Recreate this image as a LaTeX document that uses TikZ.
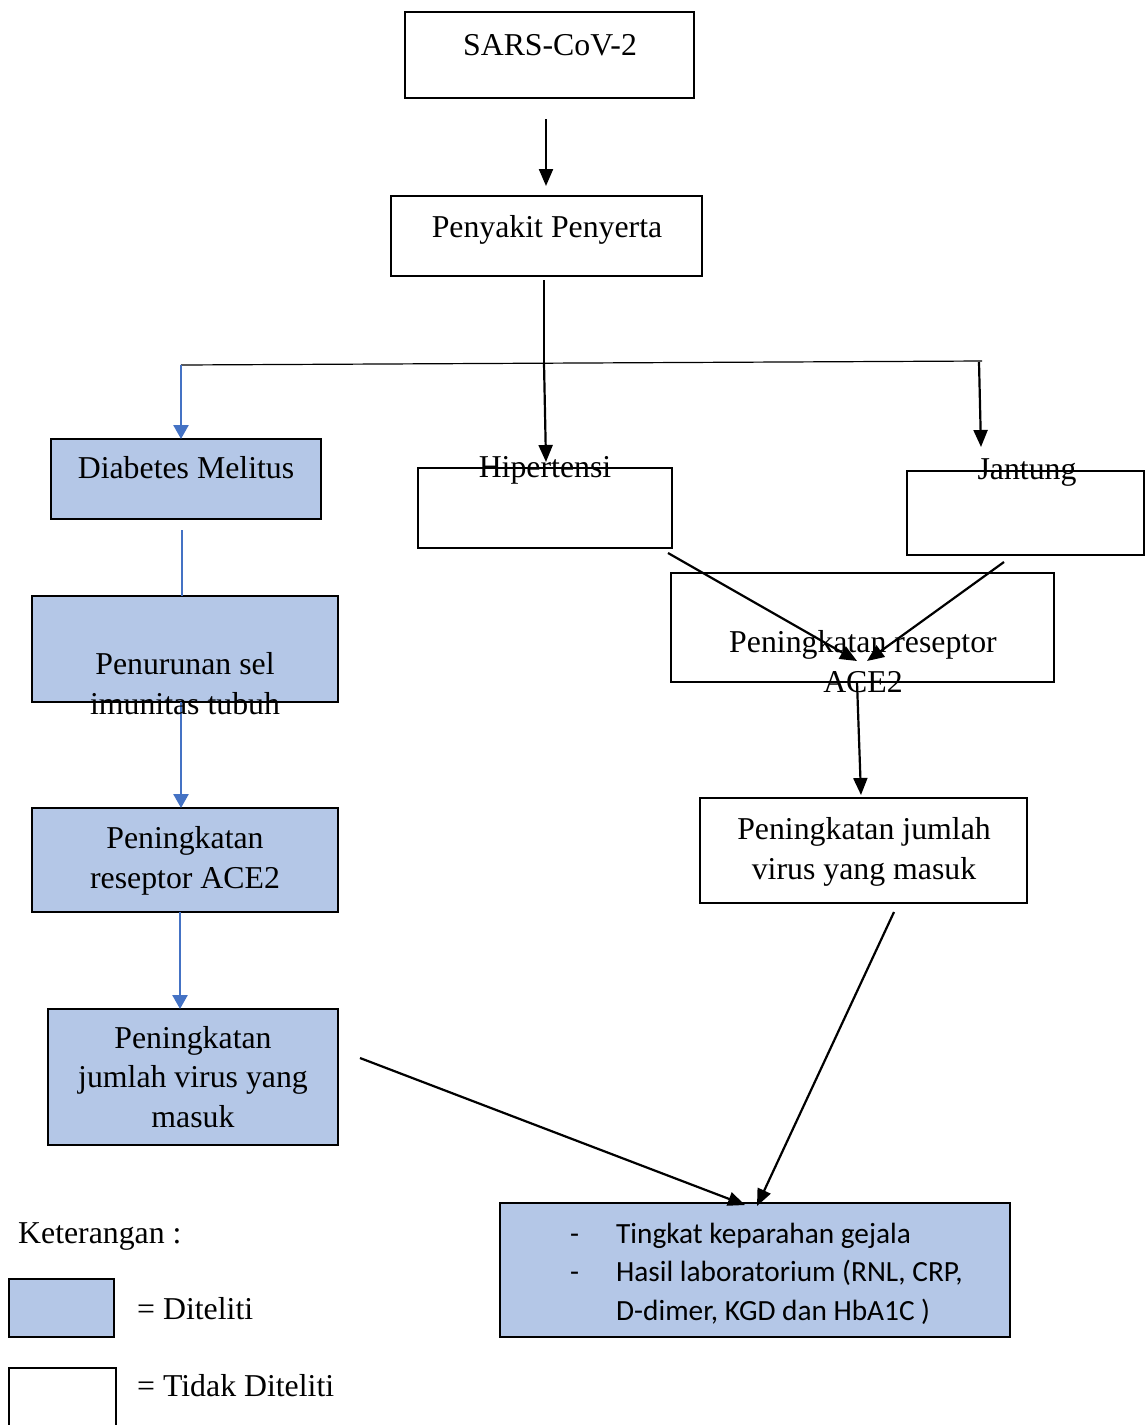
\documentclass[tikz,border=0pt]{standalone}
\usepackage{fontspec}
\setmainfont{Liberation Serif}
\newfontfamily\calib{Carlito}
\usetikzlibrary{arrows.meta}
\definecolor{boxfill}{HTML}{B4C7E7}
\definecolor{blueline}{HTML}{4472C4}
\begin{document}
\begin{tikzpicture}[x=1pt,y=-1pt,
  box/.style={draw=black, line width=2.3pt, anchor=north west, inner sep=0pt, outer sep=0pt},
  res/.style={box, fill=boxfill},
  txt/.style={anchor=base, inner sep=0pt, align=center, font=\fontsize{31.8}{39.5}\selectfont},
  arr/.style={line width=2.2pt, -{Triangle[length=17pt,width=14pt]}},
  barr/.style={draw=blueline, line width=2.6pt, -{Triangle[length=14pt,width=15pt]}},
  bluel/.style={draw=blueline, line width=2.6pt},
  thinl/.style={line width=1.2pt}
]
\useasboundingbox (0,0) rectangle (1145,1425);

% boxes
\node[box, minimum width=289pt, minimum height=86pt] (sars) at (405,12) {};
\node[box, minimum width=311pt, minimum height=80pt] (peny) at (391,196) {};
\node[res, minimum width=270pt, minimum height=80pt] (dm) at (51,439) {};
\node[box, minimum width=254pt, minimum height=80pt] (hip) at (418,468) {};
\node[box, minimum width=237pt, minimum height=84pt] (jan) at (907,471) {};
\node[box, minimum width=383pt, minimum height=109pt] (aceR) at (671,573) {};
\node[box, minimum width=327pt, minimum height=105pt] (jumR) at (700,798) {};
\node[res, minimum width=306pt, minimum height=106pt] (pen) at (32,596) {};
\node[res, minimum width=306pt, minimum height=104pt] (aceL) at (32,808) {};
\node[res, minimum width=290pt, minimum height=136pt] (jumL) at (48,1009) {};
\node[res, minimum width=510pt, minimum height=134pt] (out) at (500,1203) {};
\node[res, minimum width=105pt, minimum height=58pt] (leg1) at (9,1279) {};
\node[box, minimum width=107pt, minimum height=70pt] (leg2) at (9,1368) {};

% branch coordinates
\coordinate (hl) at (181,365);
\coordinate (hm) at (544,363);
\coordinate (hj) at (979,362);
\coordinate (hr) at (982,361);

% connectors
\draw[arr] ([xshift=-3.5pt,yshift=-21pt]sars.south) -- ([xshift=-0.5pt,yshift=10pt]peny.north);
\draw[thinl] ([xshift=-2.5pt,yshift=-4pt]peny.south) -- (hm);
\draw[thinl] (hl) -- (hr);
\draw[arr] (hm) -- ([xshift=1pt,yshift=6pt]hip.north);
\draw[arr] (hj) -- ([xshift=-44.5pt,yshift=24pt]jan.north);
\draw[barr] (hl) -- ([xshift=-5pt]dm.north);
\draw[bluel] ([xshift=-4pt,yshift=-11pt]dm.south) -- ([xshift=-3pt]pen.north);
\draw[barr] ([xshift=-4pt]pen.south) -- ([xshift=-4pt]aceL.north);
\draw[barr] ([xshift=-5pt]aceL.south) -- ([xshift=-13pt]jumL.north);
\draw[arr] ([xshift=-4pt,yshift=-5pt]hip.south east) -- ([xshift=-5.5pt,yshift=-33.5pt]aceR.center);
\draw[arr] ([xshift=-21.5pt,yshift=-7pt]jan.south) -- ([xshift=4.5pt,yshift=-33.5pt]aceR.center);
\draw[arr] ([xshift=-5.5pt]aceR.south) -- ([xshift=-2.5pt,yshift=3pt]jumR.north);
\draw[arr] ([xshift=30.5pt,yshift=-9pt]jumR.south) -- ([xshift=2pt,yshift=-3pt]out.north);
\draw[arr] ([xshift=22pt,yshift=19pt]jumL.east) -- ([xshift=-10pt,yshift=-2pt]out.north);

% texts (multi-line nodes anchored at the baseline of their last line)
\node[txt] (tsars) at (550,55) {SARS-CoV-2};
\node[txt] (tpeny) at (547,237) {Penyakit Penyerta};
\node[txt] (tdm) at (186,478) {Diabetes Melitus};
\node[txt] (thip) at (545,477) {Hipertensi};
\node[txt] (tjan) at (1027,479) {Jantung};
\node[txt] (taceR) at (863,692) {Peningkatan reseptor\\ACE2};
\node[txt] (tjumR) at (864,879) {Peningkatan jumlah\\virus yang masuk};
\node[txt] (tpen) at (185,714) {Penurunan sel\\imunitas tubuh};
\node[txt] (taceL) at (185,888) {Peningkatan\\reseptor ACE2};
\node[txt] (tjumL) at (193,1127) {Peningkatan\\jumlah virus yang\\masuk};
\node[anchor=base west, inner sep=0pt, font=\calib\fontsize{29.3}{38.5}\selectfont, align=left] (tout) at (570,1320)
  {-\hspace{37pt}Tingkat keparahan gejala\\
   -\hspace{37pt}Hasil laboratorium (RNL, CRP,\\
   \hphantom{-\hspace{37pt}}D-dimer, KGD dan HbA1C )};
\node[txt, anchor=base west] (tket) at (18,1243) {Keterangan :};
\node[txt, anchor=base west] (tleg1) at (137,1319) {= Diteliti};
\node[txt, anchor=base west] (tleg2) at (137,1396) {= Tidak Diteliti};
\end{tikzpicture}
\end{document}
